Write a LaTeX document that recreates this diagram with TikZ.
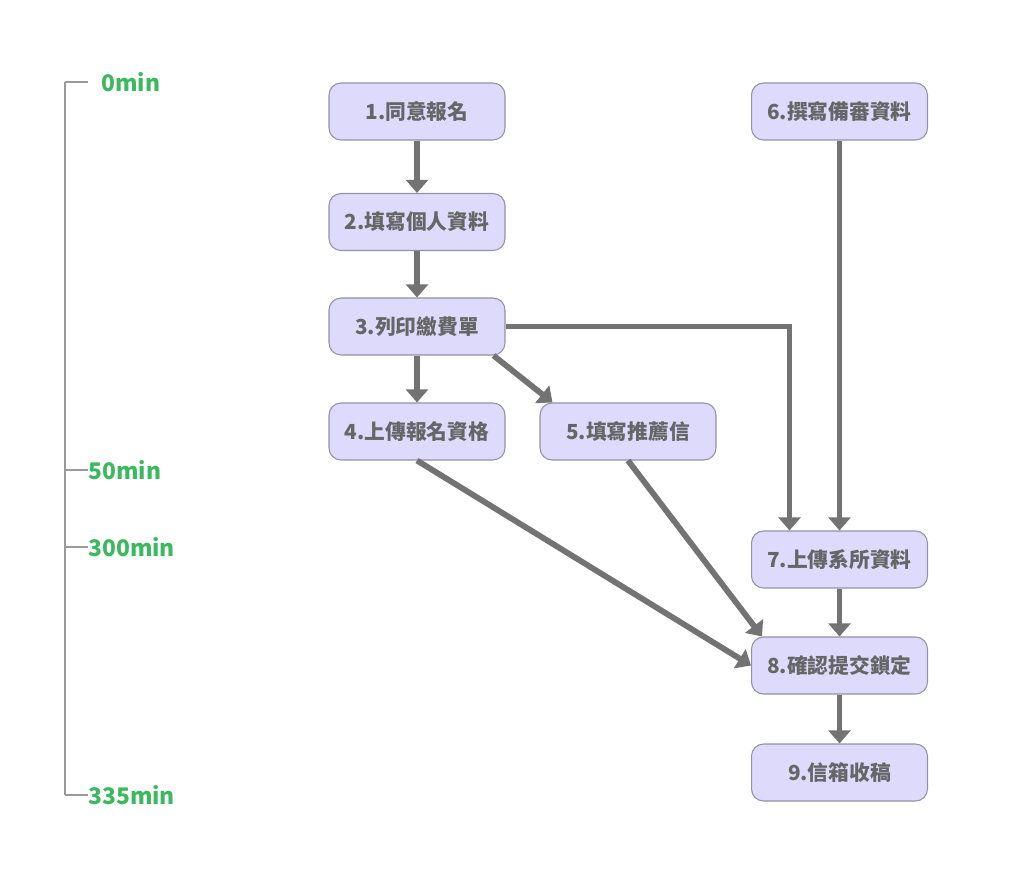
\documentclass[tikz,border=0pt]{standalone}
\usepackage{fontspec}
\setmainfont{Noto Sans CJK TC}
\usetikzlibrary{arrows.meta}
\definecolor{boxfill}{HTML}{DEDAFC}
\definecolor{boxline}{HTML}{9490A6}
\definecolor{boxtext}{HTML}{666666}
\definecolor{arrowgray}{HTML}{737373}
\definecolor{timegreen}{HTML}{3CB95F}
\definecolor{timeline}{HTML}{9A9A9A}

\begin{document}
\begin{tikzpicture}[
        x=0.02cm, y=-0.02cm,
        stepbox/.style={rectangle, rounded corners=0.24cm, draw=boxline, line width=0.6pt, fill=boxfill,
            minimum width=3.52cm, minimum height=1.14cm, text=boxtext, font=\fontsize{11.8}{14}\selectfont\bfseries},
        arrow/.style={-{Triangle[length=7.5pt,width=12.5pt]}, line width=3.3pt, draw=arrowgray},
        timemark/.style={anchor=west, inner sep=0pt, text=timegreen, font=\fontsize{13}{15}\selectfont\bfseries},
        tick/.style={draw=timeline, line width=0.8pt}
    ]
        \useasboundingbox (0,0) rectangle (1024,873);

        \node[stepbox] (s1) at (417,111.5) {1.同意報名};
        \node[stepbox] (s2) at (417,222) {2.填寫個人資料};
        \node[stepbox] (s3) at (417,326.5) {3.列印繳費單};
        \node[stepbox] (s4) at (417,431.5) {4.上傳報名資格};
        \node[stepbox] (s5) at (628,431.5) {5.填寫推薦信};
        \node[stepbox] (s6) at (839.5,111.5) {6.撰寫備審資料};
        \node[stepbox] (s7) at (839.5,559.5) {7.上傳系所資料};
        \node[stepbox] (s8) at (839.5,665.5) {8.確認提交鎖定};
        \node[stepbox] (s9) at (839.5,772.5) {9.信箱收稿};

        \draw[arrow] (s1) -- (s2);
        \draw[arrow] (s2) -- (s3);
        \draw[arrow] (s3) -- (s4);
        \draw[arrow] ([shift={(-12,0)}]s3.south east) -- ([shift={(13,0)}]s5.north west);
        \draw[arrow] (s3.east) -| ([shift={(-50,0)}]s7.north);
        \draw[arrow] (s6) -- (s7);
        \draw[arrow] (s4.south) -- (s8.west);
        \draw[arrow] (s5.south) -- ([shift={(11,0)}]s8.north west);
        \draw[arrow] (s7) -- (s8);
        \draw[arrow] (s8) -- (s9);

        \coordinate (t0) at (65,82);
        \coordinate (t50) at (65,470);
        \coordinate (t300) at (65,547);
        \coordinate (t335) at (65,795);
        \node[timemark, inner xsep=0.26cm] (m0) at (88,82) {0min};
        \node[timemark] (m50) at (88,470) {50min};
        \node[timemark] (m300) at (88,547) {300min};
        \node[timemark] (m335) at (88,795) {335min};

        \draw[tick] (t0) -- (t335);
        \draw[tick] (t0) -- (m0.west);
        \draw[tick] (t50) -- (m50.west);
        \draw[tick] (t300) -- (m300.west);
        \draw[tick] (t335) -- (m335.west);
    \end{tikzpicture}
\end{document}
